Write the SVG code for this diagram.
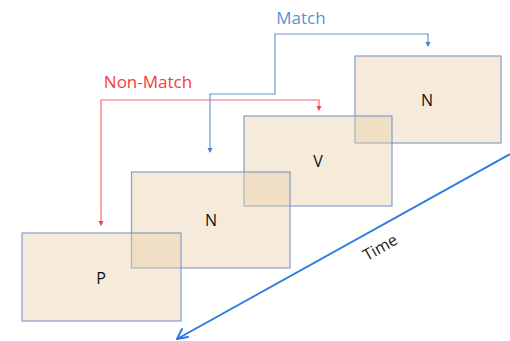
<svg xmlns="http://www.w3.org/2000/svg" width="510" height="341" viewBox="0 0 510 341">
<style>
.box{fill:#E8CDA6;fill-opacity:0.4;stroke:#6F8FC8;stroke-width:1.2;stroke-opacity:0.85}
.lbl{font-family:"Open Sans","Liberation Sans",sans-serif;font-size:16px;fill:#111;text-anchor:middle}
.blue{fill:none;stroke:#6A96D8;stroke-width:1.2}
.red{fill:none;stroke:#F26A6A;stroke-width:1.2}
</style>
<rect width="510" height="341" fill="#fff"/>
<g id="connectors">
<path class="blue" d="M210,152 V94 H275 V34 H428 V46"/>
<path d="M207.5,148 L210,153 L212.5,148Z M425.5,42 L428,47 L430.5,42Z" fill="#4A80D0"/>
<path class="red" d="M101,225 V100 H319 V109"/>
<path d="M98.5,221 L101,226 L103.5,221Z M316.5,106 L319,111 L321.5,106Z" fill="#F04040"/>
<path d="M510,154 L177,339" fill="none" stroke="#2B7BE0" stroke-width="2"/>
<path d="M177,339 L188,337 M177,339 L182,329" fill="none" stroke="#2B7BE0" stroke-width="2" stroke-linecap="round"/>
</g>
<g id="node-N2"><rect class="box" x="355" y="56" width="146" height="87"/><text class="lbl" x="427" y="106">N</text></g>
<g id="node-V"><rect class="box" x="244" y="116" width="148" height="90"/><text class="lbl" x="318" y="167">V</text></g>
<g id="node-N1"><rect class="box" x="131.5" y="172" width="158.5" height="96"/><text class="lbl" x="211" y="226">N</text></g>
<g id="node-P"><rect class="box" x="22" y="233" width="159" height="88"/><text class="lbl" x="101" y="284">P</text></g>
<g id="labels">
<text x="301" y="24" font-family="'Open Sans','Liberation Sans',sans-serif" font-size="17" fill="#5B8FD8" text-anchor="middle">Match</text>
<text x="148" y="88" font-family="'Open Sans','Liberation Sans',sans-serif" font-size="17" fill="#F23C3C" text-anchor="middle">Non-Match</text>
<text x="380" y="253" transform="rotate(-29.5 380 247)" font-family="'Open Sans','Liberation Sans',sans-serif" font-size="16" fill="#222" text-anchor="middle">Time</text>
</g>
</svg>
